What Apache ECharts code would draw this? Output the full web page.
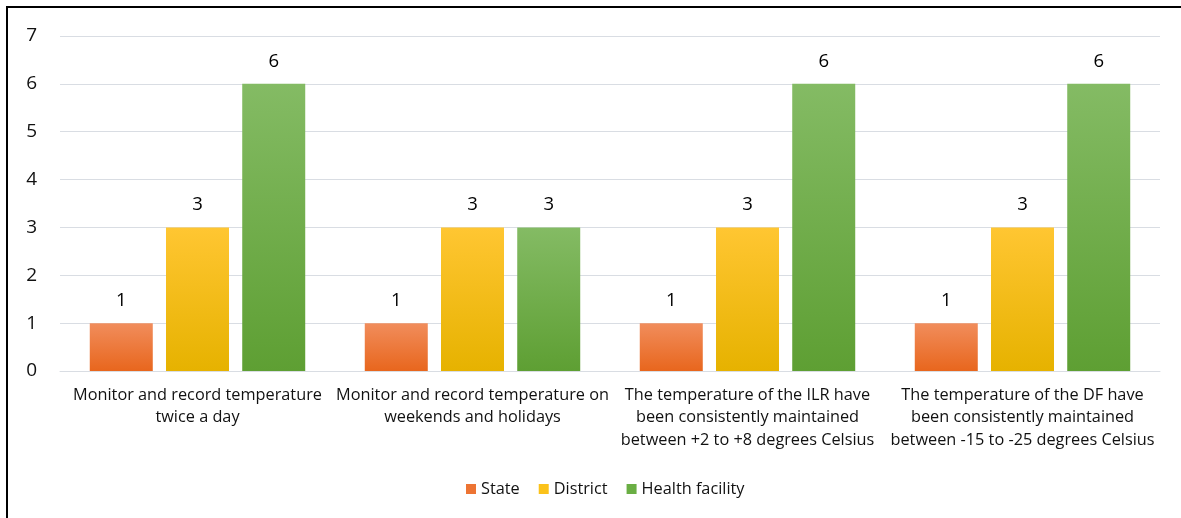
<!DOCTYPE html>
<html>
<head>
<meta charset="utf-8">
<script src="https://cdn.jsdelivr.net/npm/echarts@6/dist/echarts.min.js"></script>
<style>
  html, body { margin: 0; padding: 0; background: #fff; }
  #main { width: 1181px; height: 518px; }
</style>
</head>
<body>
<div id="main"></div>
<script>
// categories and values
var categories = [
  'Monitor and record temperature\ntwice a day',
  'Monitor and record temperature on\nweekends and holidays',
  'The temperature of the ILR have\nbeen consistently maintained\nbetween +2 to +8 degrees Celsius',
  'The temperature of the DF have\nbeen consistently maintained\nbetween -15 to -25 degrees Celsius'
]
var stateData = [1, 1, 1, 1]
var districtData = [3, 3, 3, 3]
var healthData = [6, 3, 6, 6]

var myChart = echarts.init(document.getElementById('main'))

function grad (top, bottom) {
  return new echarts.graphic.LinearGradient(0, 0, 0, 1, [
    { offset: 0, color: top },
    { offset: 1, color: bottom }
  ])
}

var fontFam = '"Open Sans", "Noto Sans", sans-serif'
var barLabel = { show: true, position: 'top', distance: 13, color: '#000', fontSize: 18.5, fontFamily: fontFam }

myChart.setOption({
  animation: false,
  textStyle: { fontFamily: fontFam },
  grid: { left: 60, right: 21, top: 36, bottom: 147 },
  legend: {
    bottom: 16,
    left: 461,
    itemWidth: 10,
    itemHeight: 10,
    itemGap: 19,
    textStyle: { fontSize: 16.3, color: '#111' },
    data: [
      { name: 'State', icon: 'rect', itemStyle: { color: '#ED7433' } },
      { name: 'District', icon: 'rect', itemStyle: { color: '#FBC21A' } },
      { name: 'Health facility', icon: 'rect', itemStyle: { color: '#6AAE44' } }
    ]
  },
  xAxis: {
    type: 'category',
    data: categories,
    axisLine: { show: true, lineStyle: { color: '#d9dde3', width: 1 } },
    axisTick: { show: false },
    axisLabel: { color: '#111', fontSize: 16.3, lineHeight: 22.5, margin: 13, interval: 0 }
  },
  yAxis: {
    type: 'value',
    min: 0,
    max: 7,
    interval: 1,
    axisLine: { show: false },
    axisTick: { show: false },
    axisLabel: { color: '#111', fontSize: 19, margin: 23 },
    splitLine: { lineStyle: { color: '#d9dde3', width: 1 } }
  },
  series: [
    {
      name: 'State',
      type: 'bar',
      data: stateData,
      barWidth: 63,
      barGap: '21%',
      itemStyle: { color: grad('#F18D5C', '#E8661D') },
      label: barLabel
    },
    {
      name: 'District',
      type: 'bar',
      data: districtData,
      barWidth: 63,
      barGap: '21%',
      itemStyle: { color: grad('#FFC632', '#E6B200') },
      label: barLabel
    },
    {
      name: 'Health facility',
      type: 'bar',
      data: healthData,
      barWidth: 63,
      barGap: '21%',
      itemStyle: { color: grad('#84BB64', '#5E9F33') },
      label: barLabel
    }
  ],
  graphic: [
    {
      type: 'rect',
      silent: true,
      shape: { x: 7, y: 7, width: 1300, height: 600 },
      style: { fill: 'none', stroke: '#000', lineWidth: 2 }
    }
  ]
})

window.addEventListener('resize', function () {
  myChart.resize()
})
</script>
</body>
</html>
